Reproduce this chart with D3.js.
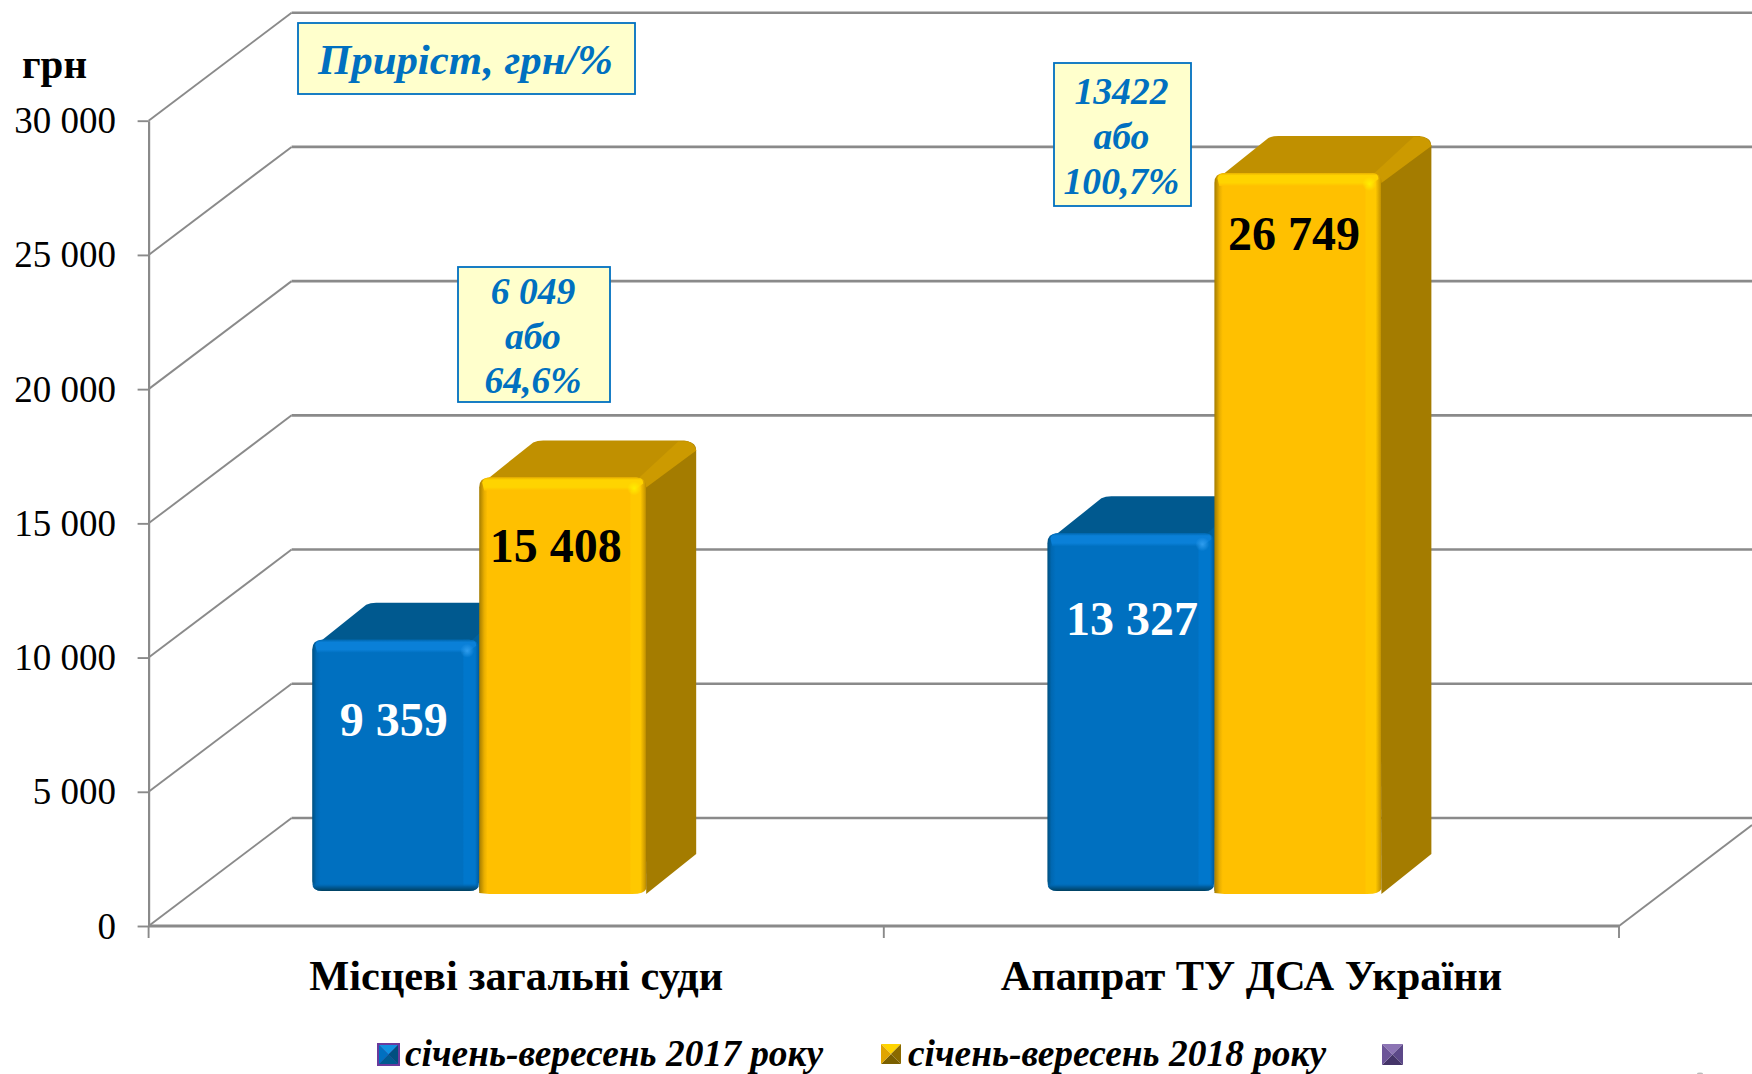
<!DOCTYPE html>
<html><head><meta charset="utf-8">
<script src="https://cdn.jsdelivr.net/npm/d3@7/dist/d3.min.js"></script>
<style>html,body{margin:0;padding:0;background:#fff;overflow:hidden}svg{display:block}text{font-family:"Liberation Serif",serif}</style>
</head><body>
<script>
const categories = ["Місцеві загальні суди", "Апапрат ТУ ДСА України"];
const series2017 = [9359, 13327];
const series2018 = [15408, 26749];
const seriesNames = ["січень-вересень 2017 року", "січень-вересень 2018 року", ""];
const yTicks = [0, 5000, 10000, 15000, 20000, 25000, 30000];
const unitLabel = "грн";
const growthTitle = "Приріст, грн/%";
const growthLabels = [["6 049", "або", "64,6%"], ["13422", "або", "100,7%"]];

const W = 1752, H = 1074;
const AX = 148.6, AR = 1619, Y0 = 926, Y1 = 120.7;
const DX = 143, DY = -108;          // wall depth
const BDX = 50, BDY = -37;          // bar depth
const BASE = -35, BAR_W = 167, BAR_SHIFT = -37;

const svg = d3.select("body").append("svg").attr("width", W).attr("height", H);
const defs = svg.append("defs");
const fmt = d3.formatLocale({decimal: ",", thousands: " ", grouping: [3], currency: ["", ""]}).format(",d");
const y = d3.scaleLinear().domain([0, 30000]).range([Y0, Y1]);
const x = d3.scaleBand().domain(categories).range([AX, AR]);
const grey = "#8a8a8a";

// walls and grid
const grid = svg.append("g").attr("fill", "none").attr("stroke", grey);
yTicks.forEach(t => {
  grid.append("path").attr("stroke-width", 1.9)
    .attr("d", d3.line()([[AX, y(t)], [AX + DX, y(t) + DY]]));
  grid.append("path").attr("stroke-width", 2.6)
    .attr("d", d3.line()([[AX + DX, y(t) + DY], [W, y(t) + DY]]));
});
grid.append("path").attr("stroke-width", 1.9)
  .attr("d", d3.line()([[AR, y(0)], [W, y(0) - 101]]));

// axes
const yAxis = d3.axisLeft(y).tickValues(yTicks).tickFormat(fmt).tickSize(11).tickSizeOuter(0);
const gy = svg.append("g").attr("transform", `translate(${AX},0)`).call(yAxis);
gy.select(".domain").attr("stroke", grey).attr("stroke-width", 2.2);
gy.selectAll(".tick line").attr("stroke", grey).attr("stroke-width", 1.9);
gy.selectAll(".tick text").attr("font-size", 37).attr("font-family", "Liberation Serif")
  .attr("fill", "#000").attr("x", -32.5).attr("dy", 12);

const gx = svg.append("g");
gx.append("path").attr("stroke", grey).attr("stroke-width", 2.8).attr("fill", "none")
  .attr("d", d3.line()([[AX, y(0)], [AR, y(0)]]));
[AX, x(categories[1]), AR].forEach(v => gx.append("path").attr("stroke", grey).attr("stroke-width", 1.9)
  .attr("d", d3.line()([[v, y(0)], [v, y(0) + 12]])));
gx.selectAll("text").data(categories).join("text")
  .attr("x", d => x(d) + x.bandwidth() / 2).attr("y", 990)
  .attr("text-anchor", "middle").attr("font-weight", "bold").attr("font-size", 42.4)
  .attr("fill", "#000").text(d => d);

svg.append("text").attr("x", 22).attr("y", 78).attr("font-weight", "bold").attr("font-size", 41)
  .attr("fill", "#000").text(unitLabel);

// gradients
function hGrad(id, stops) {
  const g = defs.append("linearGradient").attr("id", id).attr("x1", 0).attr("x2", 1).attr("y1", 0).attr("y2", 0);
  stops.forEach(s => g.append("stop").attr("offset", s[0]).attr("stop-color", s[1]));
}
function vGrad(id, stops) {
  const g = defs.append("linearGradient").attr("id", id).attr("x1", 0).attr("x2", 0).attr("y1", 0).attr("y2", 1);
  stops.forEach(s => g.append("stop").attr("offset", s[0]).attr("stop-color", s[1], ).attr("stop-opacity", s[2] === undefined ? 1 : s[2]));
}
hGrad("yFront", [[0, "#a47c00"], [0.03, "#e8ae00"], [0.05, "#ffc000"], [0.9, "#ffc000"], [0.91, "#ffc800"], [0.965, "#ffc800"], [0.995, "#c89600"], [1, "#a47c00"]]);
hGrad("bFront", [[0, "#00507f"], [0.025, "#0068b2"], [0.05, "#0070c0"], [0.9, "#0070c0"], [0.91, "#0077cc"], [0.975, "#0077cc"], [1, "#005a9a"]]);
vGrad("yTopBevel", [[0, "#e8b000"], [0.2, "#ffd400"], [0.75, "#ffd400"], [1, "#ffc000"]]);
vGrad("bTopBevel", [[0, "#0068b0"], [0.2, "#0a80d8"], [0.75, "#0a80d8"], [1, "#0070c0"]]);
vGrad("bBottom", [[0, "#0070c0", 0], [0.45, "#005e9f", 1], [1, "#00405f", 1]]);
const rg = (id, c) => { const g = defs.append("radialGradient").attr("id", id);
  g.append("stop").attr("offset", 0).attr("stop-color", c).attr("stop-opacity", 1);
  g.append("stop").attr("offset", 1).attr("stop-color", c).attr("stop-opacity", 0); };
rg("yHi", "#ffee00"); rg("bHi", "#2f9dee");

const pal = [
  {front: "url(#bFront)", bevel: "url(#bTopBevel)", top: "#00598f", topBand: "#00609c", side: "#005a96", hi: "url(#bHi)", text: "#fff", over: 0},
  {front: "url(#yFront)", bevel: "url(#yTopBevel)", top: "#c09000", topBand: "#cc9a00", side: "#a47c00", hi: "url(#yHi)", text: "#000", over: 3}
];

function bar(g, x0, v, p) {
  const x1 = x0 + BAR_W, t = y(v) + BASE, b = y(0) + BASE + p.over, r = 10;
  const bk = y(0) + BASE;
  // side
  g.append("path").attr("fill", p.side).attr("d",
    `M${x1 - 2},${t + 8} L${x1 + BDX - 9},${t + BDY + 1} Q${x1 + BDX},${t + BDY + 2} ${x1 + BDX},${t + BDY + 10} L${x1 + BDX},${bk + BDY} L${x1},${b} Z`);
  // top
  g.append("path").attr("fill", p.top).attr("d",
    `M${x0 + 4},${t + 5} L${x0 + BDX + 4},${t + BDY + 2} Q${x0 + BDX + 8},${t + BDY} ${x0 + BDX + 14},${t + BDY} L${x1 + BDX - 12},${t + BDY} Q${x1 + BDX - 3},${t + BDY} ${x1 + BDX},${t + BDY + 10} L${x1 - 4},${t + 6} Z`);
  // lighter band along right edge of the top
  g.append("path").attr("fill", p.topBand).attr("d",
    `M${x1 - 8},${t + 1} L${x1 + BDX - 18},${t + BDY + 1} L${x1 + BDX - 9},${t + BDY + 1} Q${x1 + BDX - 2},${t + BDY + 2} ${x1 + BDX},${t + BDY + 10} L${x1},${t + 10} Z`);
  // front
  const frontPath = p.over
    ? `M${x0},${t + r} Q${x0},${t} ${x0 + r},${t} L${x1 - r},${t} Q${x1},${t} ${x1},${t + r} L${x1},${b - 5} Q${x1 - 2},${b} ${x1 - 14},${b} L${x0 + 10},${b} L${x0},${b - 1} Z`
    : `M${x0},${t + r} Q${x0},${t} ${x0 + r},${t} L${x1 - r},${t} Q${x1},${t} ${x1},${t + r} L${x1},${b - r} Q${x1},${b} ${x1 - r},${b} L${x0 + r},${b} Q${x0},${b} ${x0},${b - r} Z`;
  g.append("path").attr("fill", p.front).attr("d", frontPath);
  // top bevel
  g.append("path").attr("fill", p.bevel).attr("d",
    `M${x0 + 5},${t + 13} L${x0 + 3},${t + 5} Q${x0 + 5},${t} ${x0 + r},${t} L${x1 - r},${t} Q${x1 - 3},${t} ${x1 - 3},${t + 6} L${x1 - 12},${t + 13} Z`);
  g.append("circle").attr("cx", x1 - 12).attr("cy", t + 11).attr("r", 7).attr("fill", p.hi);
  if (!p.over) g.append("path").attr("fill", "url(#bBottom)").attr("d",
    `M${x0},${b - 8} L${x1},${b - 8} Q${x1},${b} ${x1 - r},${b} L${x0 + r},${b} Q${x0},${b} ${x0},${b - 8} Z`);
}

const labelBaseline = [[96, 102], [85, 77]];
const labelShift = [[-2, 1], [-7, -4]];
const allSeries = [series2017, series2018];
const barsG = svg.append("g");
allSeries.forEach((s, si) => s.forEach((v, ci) => {
  const x0 = x(categories[ci]) + x.bandwidth() / 2 + BAR_SHIFT + (si - 1) * BAR_W;
  bar(barsG.append("g"), x0, v, pal[si]);
}));
allSeries.forEach((s, si) => s.forEach((v, ci) => {
  const x0 = x(categories[ci]) + x.bandwidth() / 2 + BAR_SHIFT + (si - 1) * BAR_W;
  svg.append("text").attr("x", x0 + BAR_W / 2 + labelShift[si][ci]).attr("y", y(v) + BASE + labelBaseline[si][ci])
    .attr("text-anchor", "middle").attr("font-weight", "bold").attr("font-size", 48)
    .attr("fill", pal[si].text).text(fmt(v));
}));

// annotation boxes
function box(bx, by, bw, bh, lines, baselines, size) {
  svg.append("rect").attr("x", bx).attr("y", by).attr("width", bw).attr("height", bh)
    .attr("fill", "#ffffcc").attr("stroke", "#0070c0").attr("stroke-width", 1.8);
  lines.forEach((l, i) => svg.append("text").attr("x", bx + bw / 2 - 1).attr("y", baselines[i])
    .attr("text-anchor", "middle").attr("font-weight", "bold").attr("font-style", "italic")
    .attr("font-size", size).attr("fill", "#0070c0").text(l));
}
box(298, 23, 337, 71, [growthTitle], [74], 42.8);
box(458, 267, 152, 135, growthLabels[0], [304, 349, 393], 37.6);
box(1054, 63, 137, 143, growthLabels[1], [104, 149, 194], 37.6);

// legend
function swatch(sx, sy, s, cols, border) {
  const g = svg.append("g");
  if (border) g.append("rect").attr("x", sx).attr("y", sy).attr("width", s).attr("height", s).attr("fill", border);
  const m = border ? 2 : 0, a = sx + m, b = sy + m, e = s - 2 * m;
  const c = [[a, b], [a + e, b], [a + e, b + e], [a, b + e]];
  const mid = [a + e / 2, b + e / 2];
  [0, 1, 2, 3].forEach(k => g.append("path").attr("fill", cols[k])
    .attr("d", d3.line()([c[k], c[(k + 1) % 4], mid]) + "Z"));
}
swatch(377, 1043, 23, ["#1090e0", "#004f80", "#005a90", "#0070c0"], "#6a3a9c");
swatch(881, 1044, 20, ["#ffd400", "#8a6a00", "#7a5f00", "#e0a400"], null);
swatch(1382, 1044, 21, ["#8c74b4", "#5c4888", "#443468", "#6c5498"], null);
const legendX = [405, 908];
seriesNames.slice(0, 2).forEach((n, i) => svg.append("text").attr("x", legendX[i]).attr("y", 1066)
  .attr("font-weight", "bold").attr("font-style", "italic").attr("font-size", 37.4).attr("fill", "#000").text(n));
svg.append("ellipse").attr("cx", 1700).attr("cy", 1073.5).attr("rx", 3).attr("ry", 1).attr("fill", "#bbb");
</script>
</body></html>
